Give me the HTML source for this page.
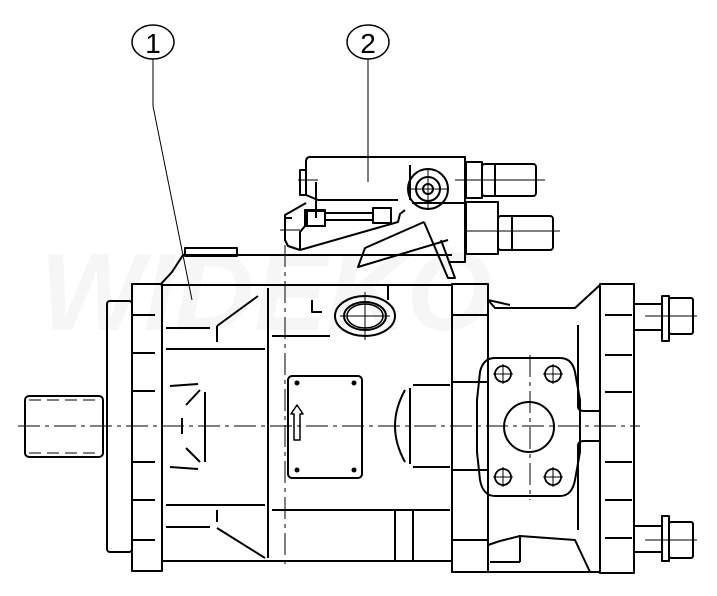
<!DOCTYPE html>
<html><head><meta charset="utf-8"><style>
html,body{margin:0;padding:0;background:#fff;width:717px;height:596px;overflow:hidden}
svg{display:block}
text{font-family:"Liberation Sans",sans-serif}
</style></head><body>
<svg width="717" height="596" viewBox="0 0 717 596" xmlns="http://www.w3.org/2000/svg">
<g fill="none" stroke="#000" stroke-width="2" stroke-linejoin="round">
<!-- watermark -->
<text x="40" y="330" font-size="110" font-weight="bold" font-style="italic" fill="#f6f6f6" stroke="none">WIDEKO</text>

<!-- callouts -->
<ellipse cx="153" cy="42" rx="21" ry="17" stroke-width="1.5"/>
<text x="153" y="53" font-size="28" text-anchor="middle" fill="#000" stroke="none">1</text>
<polyline points="153,59 153,106 192,300" stroke-width="1"/>
<ellipse cx="368" cy="42" rx="21" ry="17" stroke-width="1.5"/>
<text x="368" y="53" font-size="28" text-anchor="middle" fill="#000" stroke="none">2</text>
<line x1="368" y1="59" x2="368" y2="182" stroke-width="1"/>

<!-- shaft -->
<rect x="25" y="396" width="78" height="61" rx="4"/>
<line x1="29" y1="400" x2="100" y2="400" stroke-width="1" stroke-dasharray="12,6"/>
<line x1="29" y1="453" x2="100" y2="453" stroke-width="1" stroke-dasharray="12,6"/>
<!-- flange plate -->
<rect x="107" y="301" width="25" height="251" rx="3"/>
<!-- front flange -->
<rect x="132" y="284" width="30" height="287"/>
<g stroke-width="2">
<line x1="133" y1="315" x2="155" y2="315"/><line x1="133" y1="353" x2="155" y2="353"/>
<line x1="133" y1="391" x2="155" y2="391"/><line x1="133" y1="462" x2="155" y2="462"/>
<line x1="133" y1="500" x2="155" y2="500"/><line x1="133" y1="540" x2="155" y2="540"/>
</g>
<!-- main housing -->
<polyline points="162,285 452,285"/>
<polyline points="162,561 452,561"/>
<polyline points="160,285 172,272 183,255 452,255"/>
<rect x="185" y="248" width="52" height="8"/>
<line x1="166" y1="328" x2="210" y2="328"/>
<line x1="166" y1="349" x2="265" y2="349"/>
<line x1="217" y1="326" x2="258" y2="296"/>
<line x1="217" y1="326" x2="217" y2="342"/>
<line x1="166" y1="505" x2="265" y2="505"/>
<line x1="166" y1="527" x2="210" y2="527"/>
<line x1="217" y1="510" x2="217" y2="522"/>
<line x1="217" y1="528" x2="265" y2="558"/>
<line x1="268" y1="288" x2="268" y2="558"/>
<line x1="272" y1="336" x2="330" y2="336"/>
<line x1="272" y1="510" x2="450" y2="510"/>
<!-- cone inside -->
<line x1="170" y1="386" x2="198" y2="384"/><line x1="170" y1="467" x2="198" y2="469"/>
<line x1="186" y1="405" x2="200" y2="390"/><line x1="186" y1="448" x2="200" y2="462"/>
<line x1="205" y1="392" x2="205" y2="462"/>
<line x1="182" y1="418" x2="182" y2="434"/>
<!-- oval port -->
<ellipse cx="365" cy="316" rx="30" ry="20"/>
<ellipse cx="365" cy="316" rx="21" ry="14"/>
<ellipse cx="365" cy="316" rx="18" ry="12" stroke-width="1.5"/>
<polyline points="312,300 312,312 322,312"/>
<line x1="388" y1="300" x2="388" y2="286"/>
<!-- panel -->
<rect x="288" y="376" width="74" height="102" rx="4"/>
<g fill="#000" stroke="none"><circle cx="297" cy="383" r="2.5"/><circle cx="354" cy="383" r="2.5"/><circle cx="297" cy="470" r="2.5"/><circle cx="354" cy="470" r="2.5"/></g>
<path d="M294,440 L294,414 L291,414 L297,405 L303,414 L300,414 L300,440 Z" stroke-width="1.5"/>
<!-- dome -->
<path d="M405,390 Q385,426 405,462"/>
<line x1="410" y1="388" x2="410" y2="464"/>
<line x1="413" y1="385" x2="450" y2="385"/><line x1="413" y1="467" x2="450" y2="467"/>
<line x1="395" y1="510" x2="395" y2="561"/>
<line x1="413" y1="510" x2="413" y2="561"/>

<!-- rear section -->
<rect x="452" y="284" width="36" height="288"/>
<line x1="452" y1="382" x2="488" y2="382"/><line x1="452" y1="470" x2="488" y2="470"/>
<line x1="452" y1="540" x2="488" y2="540"/><line x1="452" y1="315" x2="488" y2="315"/>
<!-- port block -->
<polyline points="488,288 488,300 495,308 575,308 600,285 600,572 590,572 575,540 520,536 500,541 488,545 488,572 600,572"/>
<polyline points="488,300 510,305"/>
<line x1="578" y1="325" x2="578" y2="406"/><line x1="578" y1="446" x2="578" y2="530"/>
<path d="M578,406 Q578,411 584,411 L600,411"/>
<path d="M578,446 Q578,441 584,441 L600,441"/>
<line x1="520" y1="535" x2="520" y2="562"/><line x1="490" y1="562" x2="520" y2="562"/>
<line x1="605" y1="355" x2="632" y2="355"/><line x1="605" y1="392" x2="632" y2="392"/>
<line x1="605" y1="462" x2="632" y2="462"/><line x1="605" y1="500" x2="632" y2="500"/>
<line x1="605" y1="538" x2="632" y2="538"/><line x1="605" y1="315" x2="632" y2="315"/>
<!-- port plate -->
<path d="M495,358 L560,358 Q572,358 575,372 L580,400 L580,452 L575,480 Q572,496 560,496 L495,496 Q483,496 480,480 L477,452 L477,400 L480,372 Q483,358 495,358 Z"/>
<circle cx="529" cy="427" r="25"/>
<g stroke-width="1.8"><circle cx="503" cy="374" r="8"/><circle cx="553" cy="374" r="8"/><circle cx="503" cy="477" r="8"/><circle cx="553" cy="477" r="8"/></g>
<!-- right flange -->
<rect x="600" y="284" width="34" height="289"/>
<!-- bolts -->
<g>
<rect x="634" y="304" width="28" height="26"/><rect x="662" y="296" width="7" height="45"/><rect x="669" y="298" width="24" height="36" rx="2"/>
<rect x="634" y="526" width="28" height="26"/><rect x="662" y="516" width="7" height="45"/><rect x="669" y="522" width="24" height="36" rx="2"/>
</g>

<!-- valve block -->
<path d="M310,157 L465,157 L465,203 L412,203"/>
<path d="M310,157 Q306,157 306,162 L306,195 L300,195 L300,170 L306,170"/>
<path d="M306,195 L318,200 L398,200"/>
<line x1="316" y1="182" x2="316" y2="218"/>
<line x1="410" y1="165" x2="410" y2="200"/>
<circle cx="428" cy="189" r="20"/><circle cx="428" cy="189" r="12"/><circle cx="428" cy="189" r="5"/>
<path d="M306,203 L285,215 L285,240 L288,246 L300,250"/>
<path d="M292,218 L285,218 M305,210 L305,226 L325,226 L325,210 Z"/>
<rect x="307" y="211" width="18" height="15"/>
<rect x="373" y="208" width="18" height="15"/>
<line x1="325" y1="213" x2="373" y2="213"/>
<line x1="325" y1="220" x2="373" y2="220"/>
<path d="M300,250 L398,222 L400,214 L405,210"/>
<path d="M300,250 L300,232 L305,226"/>
<path d="M424,222 L365,248 L358,267 L448,240"/>
<path d="M424,222 L448,278 L455,278 L441,240"/>
<path d="M465,203 L465,262 L448,262"/>
<!-- plugs -->
<rect x="466" y="162" width="16" height="36"/><rect x="482" y="164" width="54" height="32" rx="3"/>
<line x1="495" y1="164" x2="495" y2="196"/>
<rect x="466" y="202" width="32" height="52"/><rect x="498" y="216" width="55" height="34" rx="3"/>
<line x1="512" y1="216" x2="512" y2="250"/>

<!-- center lines -->
<g stroke-width="1" stroke-dasharray="22,5,4,5">
<line x1="18" y1="426" x2="640" y2="426"/>
<line x1="285" y1="245" x2="285" y2="566"/>
<line x1="530" y1="355" x2="530" y2="500"/>
</g>
<g stroke-width="1">
<line x1="408" y1="189" x2="448" y2="189"/><line x1="428" y1="169" x2="428" y2="210"/>
<line x1="493" y1="374" x2="513" y2="374"/><line x1="503" y1="364" x2="503" y2="384"/>
<line x1="543" y1="374" x2="563" y2="374"/><line x1="553" y1="364" x2="553" y2="384"/>
<line x1="493" y1="477" x2="513" y2="477"/><line x1="503" y1="467" x2="503" y2="487"/>
<line x1="543" y1="477" x2="563" y2="477"/><line x1="553" y1="467" x2="553" y2="487"/>
<line x1="645" y1="316" x2="697" y2="316"/><line x1="645" y1="540" x2="697" y2="540"/>
<line x1="340" y1="316" x2="390" y2="316"/><line x1="365" y1="292" x2="365" y2="340"/>
<line x1="298" y1="180" x2="318" y2="180"/><line x1="280" y1="230" x2="300" y2="230"/>
<line x1="455" y1="180" x2="545" y2="180"/><line x1="465" y1="231" x2="560" y2="231"/>
</g>
</g>
</svg>
</body></html>
